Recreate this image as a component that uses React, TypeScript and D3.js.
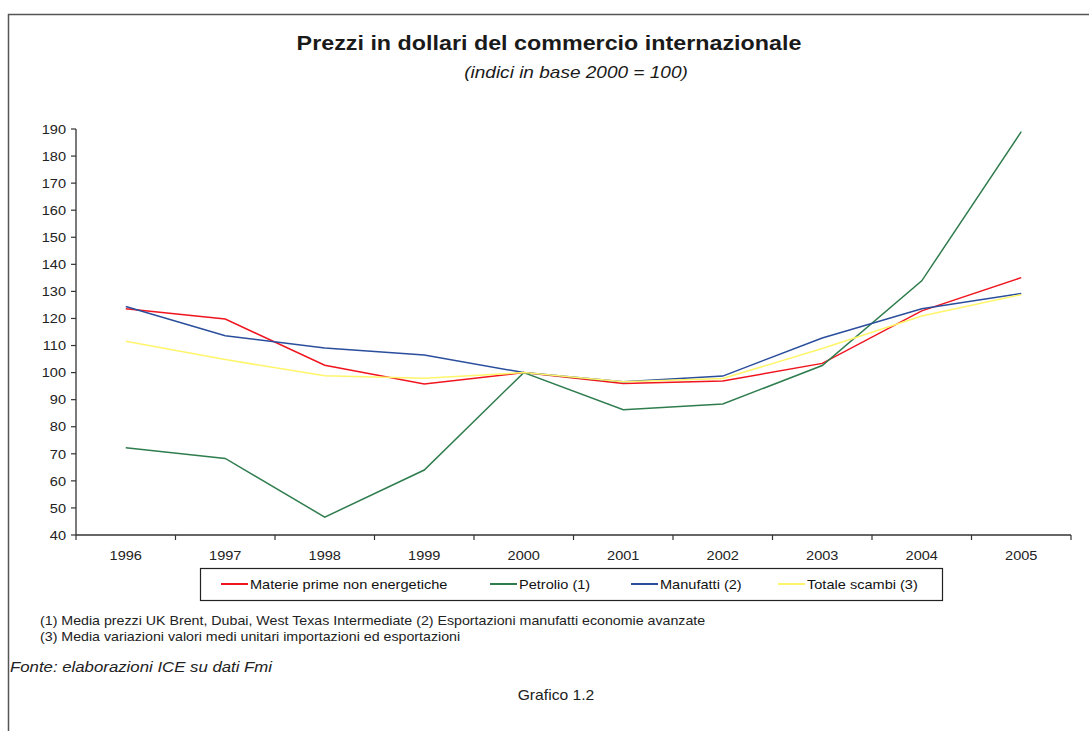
import React from "react";
import * as d3 from "d3";

const years = ["1996", "1997", "1998", "1999", "2000", "2001", "2002", "2003", "2004", "2005"];
const materie = [123.6, 119.8, 102.7, 95.8, 100, 96.0, 96.9, 103.4, 122.8, 135.1];
const petrolio = [72.2, 68.3, 46.6, 64.0, 100, 86.3, 88.4, 102.6, 133.9, 189.0];
const manufatti = [124.4, 113.6, 109.1, 106.5, 100, 96.6, 98.7, 112.8, 123.6, 129.2];
const totale = [111.6, 104.8, 98.8, 97.9, 100, 96.6, 97.8, 108.9, 120.9, 128.8];
const yTicks = [40, 50, 60, 70, 80, 90, 100, 110, 120, 130, 140, 150, 160, 170, 180, 190];

const seriesNames = ["Materie prime non energetiche", "Petrolio (1)", "Manufatti (2)", "Totale scambi (3)"];
const seriesColors = ["#f0141e", "#2f7d4e", "#2a4e9c", "#fff56a"];
const seriesData = [materie, petrolio, manufatti, totale];

const W = 1089;
const H = 731;
const FONT = "Arial, 'Liberation Sans', Helvetica, sans-serif";
const S = 1.12; // horizontal stretch of the reference text

function T(props: {
  x: number;
  y: number;
  size: number;
  anchor?: "start" | "middle" | "end";
  bold?: boolean;
  italic?: boolean;
  fill?: string;
  children: React.ReactNode;
}) {
  return (
    <text
      transform={`translate(${props.x},${props.y}) scale(${S},1)`}
      textAnchor={props.anchor || "start"}
      fontSize={props.size}
      fontWeight={props.bold ? "bold" : "normal"}
      fontStyle={props.italic ? "italic" : "normal"}
      fill={props.fill || "#222"}
    >
      {props.children}
    </text>
  );
}

export default function App() {
  const x0 = 76, x1 = 1071, yTop = 129, yBot = 535;
  const xBand = d3.scaleBand<string>().domain(years).range([x0, x1]).padding(0);
  const y = d3.scaleLinear().domain([40, 190]).range([yBot, yTop]);
  const line = d3
    .line<number>()
    .x((_, i) => (xBand(years[i]) as number) + xBand.bandwidth() / 2)
    .y((d) => y(d));

  const boundaries = years.map((yr) => xBand(yr) as number).concat([x1]);

  const legendItems = [
    { lx: 221, tx: 250 },
    { lx: 490, tx: 519 },
    { lx: 631, tx: 660 },
    { lx: 778, tx: 807 },
  ];

  return (
    <svg
      width={W}
      height={H}
      style={{ position: "absolute", left: 0, top: 0, background: "#fff" }}
      fontFamily={FONT}
    >
      <rect x={0} y={0} width={W} height={H} fill="#fff" />
      {/* frame */}
      <line x1={8.5} y1={14} x2={8.5} y2={H} stroke="#555" strokeWidth={1.5} />
      <line x1={8} y1={14.5} x2={W} y2={14.5} stroke="#555" strokeWidth={1.5} />

      {/* titles */}
      <T x={549} y={50} size={20.8} anchor="middle" bold fill="#1a1a1a">
        Prezzi in dollari del commercio internazionale
      </T>
      <T x={576} y={78} size={17} anchor="middle" italic fill="#1a1a1a">
        (indici in base 2000 = 100)
      </T>

      {/* y axis */}
      <line x1={x0} y1={yTop} x2={x0} y2={yBot} stroke="#333" strokeWidth={1.3} />
      {yTicks.map((t) => (
        <g key={t}>
          <line x1={x0 - 5} y1={y(t)} x2={x0} y2={y(t)} stroke="#333" strokeWidth={1.2} />
          <T x={66} y={y(t) + 4.7} size={13} anchor="end">
            {t}
          </T>
        </g>
      ))}

      {/* x axis */}
      <line x1={x0} y1={yBot} x2={x1} y2={yBot} stroke="#333" strokeWidth={1.3} />
      {boundaries.map((b, i) => (
        <line key={i} x1={b} y1={yBot} x2={b} y2={yBot + 5} stroke="#333" strokeWidth={1.2} />
      ))}
      {years.map((yr) => (
        <T key={yr} x={(xBand(yr) as number) + xBand.bandwidth() / 2} y={560} size={13} anchor="middle">
          {yr}
        </T>
      ))}

      {/* series */}
      {seriesData.map((d, i) => (
        <path key={i} d={line(d) as string} fill="none" stroke={seriesColors[i]} strokeWidth={1.5} />
      ))}

      {/* legend */}
      <rect x={200.5} y={568.5} width={742} height={32} fill="#fff" stroke="#222" strokeWidth={1.2} />
      {seriesNames.map((n, i) => (
        <g key={n}>
          <line
            x1={legendItems[i].lx}
            y1={584}
            x2={legendItems[i].lx + 27}
            y2={584}
            stroke={seriesColors[i]}
            strokeWidth={2}
          />
          <T x={legendItems[i].tx} y={588.5} size={13} fill="#111">
            {n}
          </T>
        </g>
      ))}

      {/* footnotes */}
      <T x={40} y={624.5} size={12.7}>
        (1) Media prezzi UK Brent, Dubai, West Texas Intermediate (2) Esportazioni manufatti economie avanzate
      </T>
      <T x={40} y={640.5} size={12.7}>
        (3) Media variazioni valori medi unitari importazioni ed esportazioni
      </T>
      <T x={10} y={672} size={15} italic>
        Fonte: elaborazioni ICE su dati Fmi
      </T>
      <T x={556} y={700} size={14} anchor="middle">
        Grafico 1.2
      </T>
    </svg>
  );
}
